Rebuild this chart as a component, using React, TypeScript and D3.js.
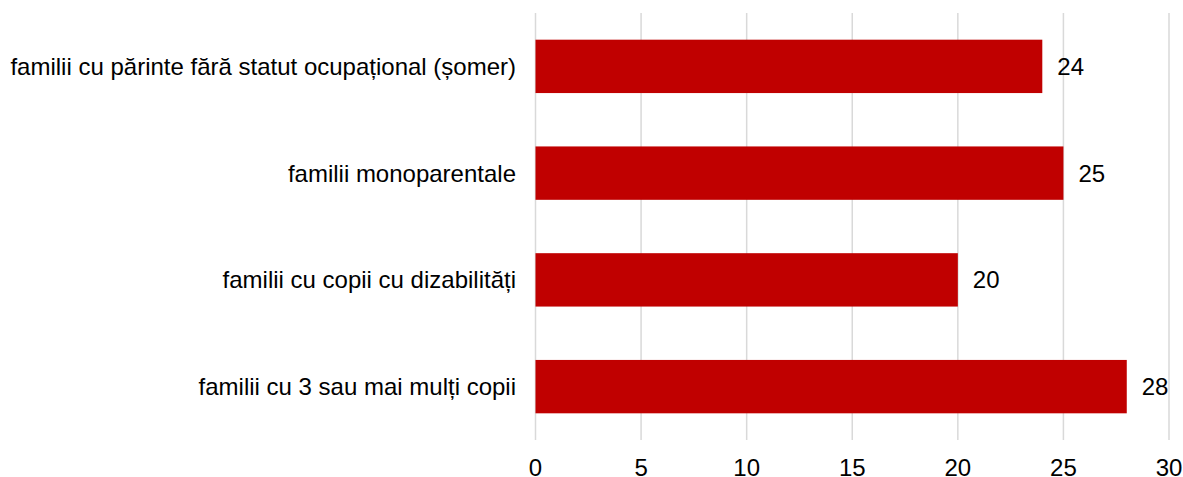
import React from "react";
import * as d3 from "d3";

const categories = [
  "familii cu părinte fără statut ocupațional (șomer)",
  "familii monoparentale",
  "familii cu copii cu dizabilități",
  "familii cu 3 sau mai mulți copii",
];
const values = [24, 25, 20, 28];
const ticks = [0, 5, 10, 15, 20, 25, 30];

export default function App() {
  const W = 1183, H = 477;
  const x = d3.scaleLinear().domain([0, 30]).range([535.5, 1169]);
  const y = d3.scaleBand<string>().domain(categories).range([13, 440]).paddingInner(0.5).paddingOuter(0.25);
  const font = "'Liberation Sans', Arial, sans-serif";
  return (
    <svg width={W} height={H} style={{ position: "absolute", left: 0, top: 0, background: "#fff" }}>
      {ticks.map((t) => (
        <g key={t}>
          <line x1={x(t)} x2={x(t)} y1={13} y2={440} stroke="#d9d9d9" strokeWidth={1.5} />
          <text x={x(t)} y={476} textAnchor="middle" fontFamily={font} fontSize={24} fill="#000">{t}</text>
        </g>
      ))}
      {categories.map((c, i) => {
        const y0 = y(c)!;
        const bw = y.bandwidth();
        return (
          <g key={c}>
            <rect x={x(0)} y={y0} width={x(values[i]) - x(0)} height={bw} fill="#c00000" />
            <text x={516} y={y0 + bw / 2} dy="0.35em" textAnchor="end" fontFamily={font} fontSize={24} fill="#000">{c}</text>
            <text x={x(values[i]) + 15} y={y0 + bw / 2} dy="0.35em" textAnchor="start" fontFamily={font} fontSize={24} fill="#000">{values[i]}</text>
          </g>
        );
      })}
    </svg>
  );
}
